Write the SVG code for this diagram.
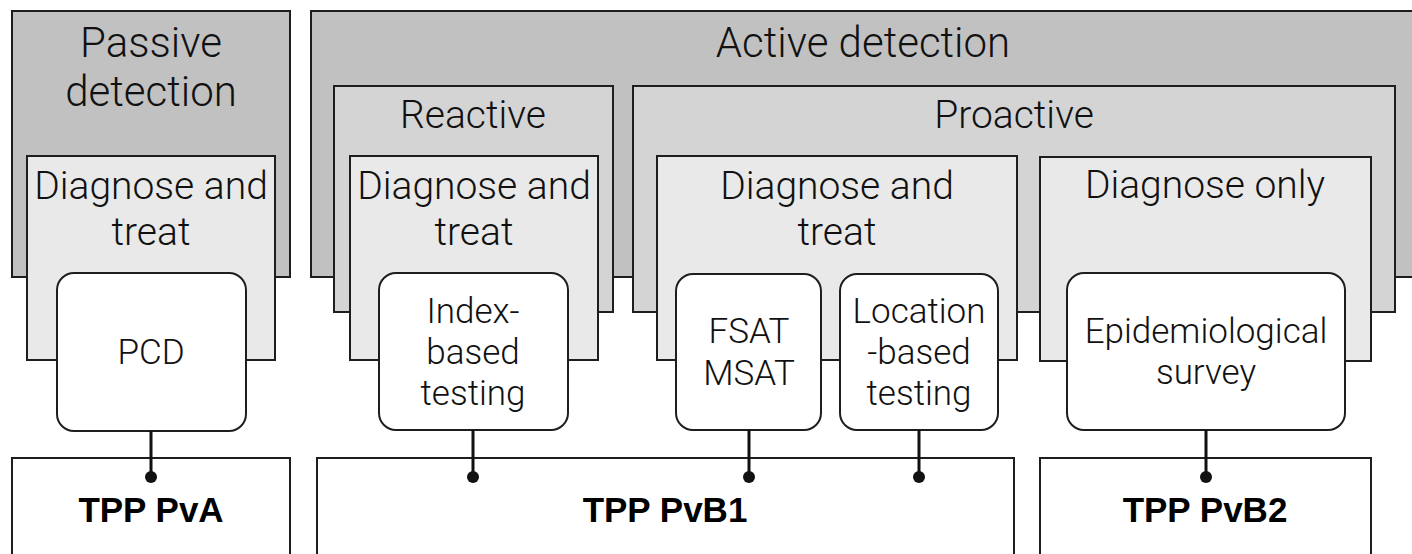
<svg xmlns="http://www.w3.org/2000/svg" width="1412" height="554" viewBox="0 0 1412 554">
<style>
.b{stroke:#1e1e1e;stroke-width:2}
.g1{fill:#c1c1c1}
.g2{fill:#d4d4d4}
.g3{fill:#e9e9e9}
.w{fill:#ffffff}
.t{font-family:Roboto,"Liberation Sans",sans-serif;font-weight:300;fill:#111;text-anchor:middle}
.x{font-size:42px}
.h{font-size:39px}
.s{font-size:35px}
.tb{font-family:"Liberation Sans",Arial,sans-serif;font-weight:bold;font-size:35px;fill:#000;text-anchor:middle}
.c{stroke:#111;stroke-width:3;fill:none}
</style>
<rect width="1412" height="554" fill="#fff"/>
<g id="passive">
<rect class="b g1" x="12" y="11" width="278" height="266"/>
<text class="t x" x="151" y="57">Passive</text>
<text class="t x" x="151" y="106">detection</text>
</g>
<g id="passive-dt">
<rect class="b g3" x="27" y="156" width="248" height="204"/>
<text class="t h" x="151" y="199">Diagnose and</text>
<text class="t h" x="151" y="245">treat</text>
</g>
<g id="pcd">
<rect class="b w" x="57" y="273" width="189" height="158" rx="17"/>
<text class="t s" x="151" y="364">PCD</text>
</g>
<g id="active">
<rect class="b g1" x="311" y="11" width="1120" height="266"/>
<text class="t x" x="863" y="57">Active detection</text>
</g>
<g id="reactive">
<rect class="b g2" x="334" y="86" width="279" height="226"/>
<text class="t h" x="473" y="128">Reactive</text>
</g>
<g id="reactive-dt">
<rect class="b g3" x="350" y="156" width="248" height="204"/>
<text class="t h" x="474" y="199">Diagnose and</text>
<text class="t h" x="474" y="245">treat</text>
</g>
<g id="index">
<rect class="b w" x="379" y="273" width="189" height="157" rx="17"/>
<text class="t s" x="473" y="323">Index-</text>
<text class="t s" x="473" y="364">based</text>
<text class="t s" x="473" y="405">testing</text>
</g>
<g id="proactive">
<rect class="b g2" x="633" y="86" width="762" height="226"/>
<text class="t h" x="1014" y="128">Proactive</text>
</g>
<g id="proactive-dt">
<rect class="b g3" x="657" y="156" width="360" height="204"/>
<text class="t h" x="837" y="199">Diagnose and</text>
<text class="t h" x="837" y="245">treat</text>
</g>
<g id="fsat">
<rect class="b w" x="676" y="274" width="145" height="156" rx="17"/>
<text class="t s" x="749" y="343">FSAT</text>
<text class="t s" x="749" y="385">MSAT</text>
</g>
<g id="location">
<rect class="b w" x="840" y="274" width="158" height="156" rx="17"/>
<text class="t s" x="919" y="323">Location</text>
<text class="t s" x="919" y="364">-based</text>
<text class="t s" x="919" y="405">testing</text>
</g>
<g id="diagnose-only">
<rect class="b g3" x="1040" y="157" width="331" height="204"/>
<text class="t h" x="1205" y="198">Diagnose only</text>
</g>
<g id="epi">
<rect class="b w" x="1067" y="273" width="278" height="157" rx="17"/>
<text class="t s" x="1206" y="343">Epidemiological</text>
<text class="t s" x="1206" y="384">survey</text>
</g>
<g id="tpp-pva">
<rect class="b w" x="12" y="458" width="278" height="110"/>
<text class="tb" x="151" y="522">TPP PvA</text>
</g>
<g id="tpp-pvb1">
<rect class="b w" x="317" y="458" width="697" height="110"/>
<text class="tb" x="665" y="522">TPP PvB1</text>
</g>
<g id="tpp-pvb2">
<rect class="b w" x="1040" y="458" width="331" height="110"/>
<text class="tb" x="1205" y="522">TPP PvB2</text>
</g>
<g id="connectors">
<path class="c" d="M151 431V477M473 430V477M749 430V477M919 430V477M1206 430V477"/>
<circle cx="151" cy="477" r="6" fill="#111"/>
<circle cx="473" cy="477" r="6" fill="#111"/>
<circle cx="749" cy="477" r="6" fill="#111"/>
<circle cx="919" cy="477" r="6" fill="#111"/>
<circle cx="1206" cy="477" r="6" fill="#111"/>
</g>
</svg>
